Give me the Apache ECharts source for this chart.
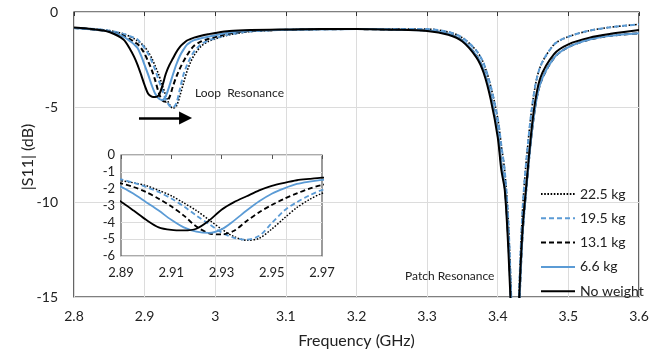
<!DOCTYPE html>
<html><head><meta charset="utf-8">
<script src="https://cdn.jsdelivr.net/npm/echarts@6/dist/echarts.min.js"></script>
<style>html,body{margin:0;padding:0;background:#fff}#c{width:653px;height:358px}</style>
</head><body><div id="c"></div>
<script>
const freq = [2.80, 2.83, 2.85, 2.87, 2.88, 2.885, 2.89, 2.895, 2.90, 2.905, 2.91, 2.915, 2.92, 2.925, 2.93, 2.935, 2.94, 2.945, 2.95, 2.955, 2.96, 2.965, 2.97, 2.98, 2.99, 3.00, 3.02, 3.05, 3.10, 3.15, 3.20, 3.25, 3.30, 3.33, 3.35, 3.37, 3.38, 3.39, 3.40, 3.405, 3.41, 3.415, 3.42, 3.425, 3.43, 3.435, 3.44, 3.45, 3.46, 3.48, 3.50, 3.53, 3.56, 3.60];
const kg225 = [-0.84, -0.90, -0.98, -1.15, -1.30, -1.40, -1.53, -1.65, -1.82, -2.10, -2.42, -2.85, -3.30, -3.85, -4.40, -4.85, -5.07, -4.95, -4.40, -3.75, -3.12, -2.65, -2.28, -1.80, -1.55, -1.42, -1.20, -1.03, -0.94, -0.91, -0.89, -0.90, -0.90, -1.05, -1.35, -2.05, -2.70, -3.90, -5.60, -7.00, -8.40, -11.0, -16.0, -22.0, -15.0, -10.5, -8.0, -4.6, -2.9, -1.7, -1.30, -0.98, -0.80, -0.65];
const kg195 = [-0.84, -0.90, -0.98, -1.15, -1.28, -1.36, -1.45, -1.65, -1.90, -2.20, -2.58, -3.05, -3.60, -4.10, -4.60, -4.92, -5.03, -4.80, -4.05, -3.30, -2.80, -2.40, -2.08, -1.70, -1.50, -1.38, -1.18, -1.02, -0.94, -0.91, -0.89, -0.90, -0.90, -1.05, -1.35, -2.05, -2.70, -3.90, -5.60, -7.00, -8.40, -11.0, -16.0, -22.0, -15.0, -10.5, -8.0, -4.6, -2.9, -1.7, -1.30, -0.98, -0.80, -0.65];
const kg131 = [-0.84, -0.93, -1.03, -1.25, -1.45, -1.57, -1.69, -1.90, -2.20, -2.60, -3.05, -3.60, -4.25, -4.65, -4.72, -4.50, -3.92, -3.40, -2.97, -2.60, -2.28, -2.00, -1.78, -1.55, -1.42, -1.32, -1.13, -1.00, -0.94, -0.91, -0.90, -0.93, -0.98, -1.15, -1.50, -2.30, -3.05, -4.40, -6.30, -8.00, -9.20, -12.0, -16.5, -22.0, -16.0, -11.8, -9.5, -5.8, -3.8, -2.4, -1.85, -1.45, -1.25, -1.12];
const kg66 = [-0.84, -0.93, -1.02, -1.30, -1.55, -1.70, -1.89, -2.30, -2.80, -3.30, -3.85, -4.30, -4.55, -4.63, -4.42, -3.90, -3.30, -2.75, -2.30, -1.98, -1.72, -1.58, -1.48, -1.38, -1.30, -1.22, -1.08, -0.98, -0.93, -0.91, -0.90, -0.93, -0.98, -1.15, -1.50, -2.30, -3.05, -4.40, -6.30, -8.00, -9.20, -12.0, -16.5, -22.0, -16.0, -11.8, -9.5, -5.8, -3.8, -2.4, -1.85, -1.45, -1.25, -1.12];
const kg0 = [-0.82, -0.92, -1.05, -1.45, -2.00, -2.35, -2.78, -3.30, -3.85, -4.30, -4.45, -4.48, -4.38, -3.90, -3.25, -2.80, -2.45, -2.10, -1.83, -1.65, -1.50, -1.42, -1.35, -1.25, -1.17, -1.10, -1.00, -0.95, -0.92, -0.90, -0.90, -0.93, -1.00, -1.20, -1.55, -2.40, -3.20, -4.60, -6.60, -8.30, -9.40, -12.5, -17.0, -22.0, -15.5, -11.5, -9.3, -5.5, -3.5, -2.2, -1.70, -1.35, -1.15, -0.95];
const seriesNames = ['22.5 kg', '19.5 kg', '13.1 kg', '6.6 kg', 'No weight'];
const seriesValues = [kg225, kg195, kg131, kg66, kg0];
const insetTicks = [2.89, 2.91, 2.93, 2.95, 2.97];

const BLUE = '#5B9BD5';
const styles = [
  {color: '#000', width: 1.6, type: [1.6, 1.6]},
  {color: BLUE, width: 2, type: [5, 3]},
  {color: '#000', width: 2, type: [5, 3]},
  {color: BLUE, width: 2, type: 'solid'},
  {color: '#000', width: 2, type: 'solid'}
];
const FONT = 'Lato';
const insetBase = insetTicks[0];

const series = [];
seriesNames.forEach((name, i) => {
  const st = styles[i];
  series.push({
    name, type: 'line', xAxisIndex: 0, yAxisIndex: 0, showSymbol: false, symbol: 'none',
    smooth: 0.3, clip: true, color: st.color,
    lineStyle: {color: st.color, width: st.width, type: st.type},
    data: freq.map((f, j) => [f, seriesValues[i][j]]), z: 3 + i
  });
});
seriesNames.forEach((name, i) => {
  const st = styles[i];
  series.push({
    name, type: 'line', xAxisIndex: 2, yAxisIndex: 1, showSymbol: false, symbol: 'none',
    smooth: 0.3, clip: true, color: st.color,
    lineStyle: {color: st.color, width: st.width * 0.9, type: st.type},
    data: freq.map((f, j) => [(f - insetBase) * 100, seriesValues[i][j]]), z: 3 + i
  });
});
// arrow annotation in data coordinates
series[0].markLine = {
  silent: true, symbol: ['none', 'triangle'], symbolSize: 13,
  label: {show: false}, animation: false,
  lineStyle: {color: '#000', width: 2.5, type: 'solid'},
  data: [[{coord: [2.892, -5.58]}, {coord: [2.958, -5.58]}]]
};

const chart = echarts.init(document.getElementById('c'));
chart.setOption({
  animation: false,
  textStyle: {fontFamily: FONT},
  grid: [
    {left: 74, top: 12, width: 565, height: 285, show: true, borderColor: '#000', borderWidth: 1.2, backgroundColor: 'transparent'},
    {left: 121, top: 155, width: 201, height: 101, show: true, borderColor: '#595959', borderWidth: 1.2, backgroundColor: 'transparent'}
  ],
  xAxis: [
    {gridIndex: 0, type: 'value', min: 2.8, max: 3.6, interval: 0.1, position: 'bottom',
     axisLine: {show: false}, axisTick: {show: false},
     axisLabel: {fontSize: 14, color: '#222', margin: 12, fontFamily: FONT},
     splitLine: {show: true, lineStyle: {color: '#dcdcdc', width: 1}},
     name: 'Frequency (GHz)', nameLocation: 'middle', nameGap: 36,
     nameTextStyle: {fontSize: 16, color: '#222', fontFamily: FONT}},
    {gridIndex: 0, type: 'value', min: 2.8, max: 3.6, interval: 0.1, position: 'top',
     axisLine: {show: false}, axisTick: {show: true, inside: true, length: 4, lineStyle: {color: '#333', width: 1}},
     axisLabel: {show: false}, splitLine: {show: false}},
    {gridIndex: 1, type: 'value', min: 0, max: 8, interval: 2, position: 'bottom',
     axisLine: {show: false}, axisTick: {show: false},
     axisLabel: {fontSize: 13, color: '#222', margin: 10, fontFamily: FONT,
       formatter: v => (insetBase + v / 100).toFixed(2)},
     splitLine: {show: false}},
    {gridIndex: 1, type: 'value', min: 0, max: 8, interval: 2, position: 'top',
     axisLine: {show: false}, axisTick: {show: true, inside: true, length: 4, lineStyle: {color: '#555', width: 1}},
     axisLabel: {show: false}, splitLine: {show: false}}
  ],
  yAxis: [
    {gridIndex: 0, type: 'value', min: -15, max: 0, interval: 5,
     axisLine: {show: false}, axisTick: {show: false},
     axisLabel: {fontSize: 14, color: '#222', margin: 16, fontFamily: FONT},
     splitLine: {show: true, lineStyle: {color: '#dcdcdc', width: 1}}},
    {gridIndex: 1, type: 'value', min: -6, max: 0, interval: 1,
     axisLine: {show: false}, axisTick: {show: false},
     axisLabel: {fontSize: 13, color: '#222', margin: 6, fontFamily: FONT},
     splitLine: {show: true, lineStyle: {color: '#dcdcdc', width: 1}}}
  ],
  legend: {
    data: seriesNames, orient: 'vertical', left: 535, top: 182,
    itemWidth: 34, itemHeight: 14, itemGap: 10.3,
    itemStyle: {color: 'transparent', borderWidth: 0},
    textStyle: {fontSize: 14, color: '#222', fontFamily: FONT}, selectedMode: false
  },
  graphic: [
    {type: 'text', x: 28, y: 157, rotation: Math.PI / 2, z: 50,
     style: {text: '|S11| (dB)', font: '16px ' + FONT, fill: '#222', align: 'center', verticalAlign: 'middle'}},
    {type: 'text', left: 195, top: 87, z: 50, style: {text: 'Loop  Resonance', font: '12px ' + FONT, fill: '#222'}},
    {type: 'text', left: 405, top: 270, z: 50, style: {text: 'Patch Resonance', font: '12px ' + FONT, fill: '#222'}}
  ],
  series
});
</script></body></html>
